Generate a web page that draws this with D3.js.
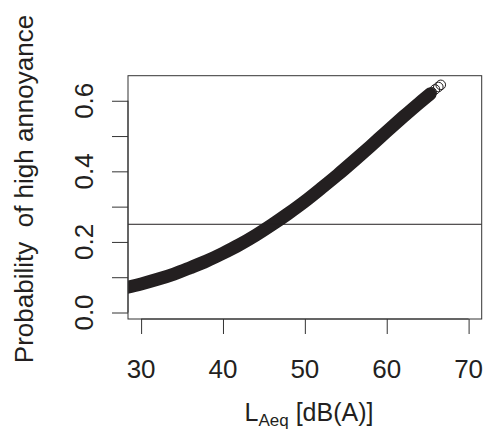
<!DOCTYPE html>
<html>
<head>
<meta charset="utf-8">
<script src="https://cdn.jsdelivr.net/npm/d3@7"></script>
<style>
  body { margin: 0; background: #fff; }
  text { font-family: "Liberation Sans", Arial, sans-serif; fill: #231f20; }
</style>
</head>
<body>
<div id="chart"></div>
<script>
// noise level (dB(A)) and fitted probability of high annoyance
const levels = [28, 30, 32, 34, 36, 38, 40, 42, 44, 46, 48, 50, 52, 54, 56, 58, 60, 62, 64, 65.3];
const probs = [0.070, 0.081, 0.094, 0.109, 0.127, 0.146, 0.168, 0.192, 0.219, 0.249, 0.281,
               0.315, 0.352, 0.390, 0.430, 0.471, 0.513, 0.554, 0.594, 0.619];
// the few separate circles at the top end
const endLevels = [65.5, 65.9, 66.3, 66.6];
const endProbs = [0.624, 0.632, 0.639, 0.645];
const cutoff = 0.25;

const xTicks = [30, 40, 50, 60, 70];
const yTicks = [0, 0.1, 0.2, 0.3, 0.4, 0.5, 0.6];
const yLabels = [0, 0.2, 0.4, 0.6];

let width = 483,
    height = 435,
    plotLeft = 128,
    plotRight = 481.7,
    plotTop = 75.7,
    plotBottom = 319,
    ink = '#231f20';

let x = d3.scaleLinear().domain([28.4, 71.6]).range([plotLeft, plotRight]);
let y = d3.scaleLinear().domain([-0.0184, 0.671]).range([plotBottom, plotTop]);

const svg = d3.select('#chart')
    .append('svg')
        .attr('width', width)
        .attr('height', height);

svg.append('defs').append('clipPath')
    .attr('id', 'plotArea')
    .append('rect')
        .attr('x', plotLeft)
        .attr('y', plotTop)
        .attr('width', plotRight - plotLeft)
        .attr('height', plotBottom - plotTop);

const plot = svg.append('g').attr('clip-path', 'url(#plotArea)');

// thick band of overlapping points
const band = d3.line()
    .x(function(d, i) { return x(levels[i]); })
    .y(function(d) { return y(d); })
    .curve(d3.curveMonotoneX);

plot.append('path')
    .attr('d', band(probs))
    .attr('fill', 'none')
    .attr('stroke', ink)
    .attr('stroke-width', 13)
    .attr('stroke-linecap', 'round');

plot.selectAll('circle.end')
    .data(endProbs)
    .enter().append('circle')
        .attr('class', 'end')
        .attr('cx', function(d, i) { return x(endLevels[i]); })
        .attr('cy', function(d) { return y(d); })
        .attr('r', 4.8)
        .attr('fill', 'none')
        .attr('stroke', ink)
        .attr('stroke-width', 1);

// horizontal line at 0.25
svg.append('line')
    .attr('x1', plotLeft)
    .attr('x2', plotRight)
    .attr('y1', y(cutoff))
    .attr('y2', y(cutoff))
    .attr('stroke', ink)
    .attr('stroke-width', 1);

// box
svg.append('rect')
    .attr('x', plotLeft)
    .attr('y', plotTop)
    .attr('width', plotRight - plotLeft)
    .attr('height', plotBottom - plotTop)
    .attr('fill', 'none')
    .attr('stroke', '#333')
    .attr('stroke-width', 1);

// x axis
const xAxis = svg.append('g')
    .attr('transform', 'translate(0,' + plotBottom + ')')
    .call(d3.axisBottom(x).tickValues(xTicks).tickSize(15).tickFormat(''));

xAxis.select('.domain')
    .attr('d', 'M' + x(30) + ',0H' + x(70));
xAxis.selectAll('line, path').attr('stroke', '#333');

svg.selectAll('text.xlab')
    .data(xTicks)
    .enter().append('text')
        .attr('class', 'xlab')
        .attr('x', function(d) { return x(d); })
        .attr('y', 378)
        .attr('text-anchor', 'middle')
        .attr('font-size', 26)
        .text(function(d) { return d; });

// y axis
const yAxis = svg.append('g')
    .attr('transform', 'translate(' + plotLeft + ',0)')
    .call(d3.axisLeft(y).tickValues(yTicks).tickSize(16).tickFormat(''));

yAxis.select('.domain')
    .attr('d', 'M0,' + y(0) + 'V' + y(0.6));
yAxis.selectAll('line, path').attr('stroke', '#333');

svg.selectAll('text.ylab')
    .data(yLabels)
    .enter().append('text')
        .attr('class', 'ylab')
        .attr('transform', function(d) {
            return 'translate(93,' + y(d) + ') rotate(-90)';
        })
        .attr('text-anchor', 'middle')
        .attr('font-size', 26)
        .text(function(d) { return d.toFixed(1); });

// axis titles
const xTitle = svg.append('text')
    .attr('x', 309)
    .attr('y', 421)
    .attr('text-anchor', 'middle')
    .attr('font-size', 25);
xTitle.append('tspan').text('L');
xTitle.append('tspan')
    .attr('font-size', 17)
    .attr('dy', 5)
    .text('Aeq');
xTitle.append('tspan')
    .attr('dy', -5)
    .text(' [dB(A)]');

svg.append('text')
    .attr('transform', 'translate(33,189) rotate(-90)')
    .attr('text-anchor', 'middle')
    .attr('font-size', 26)
    .attr('xml:space', 'preserve')
    .text('Probability  of high annoyance');
</script>
</body>
</html>
